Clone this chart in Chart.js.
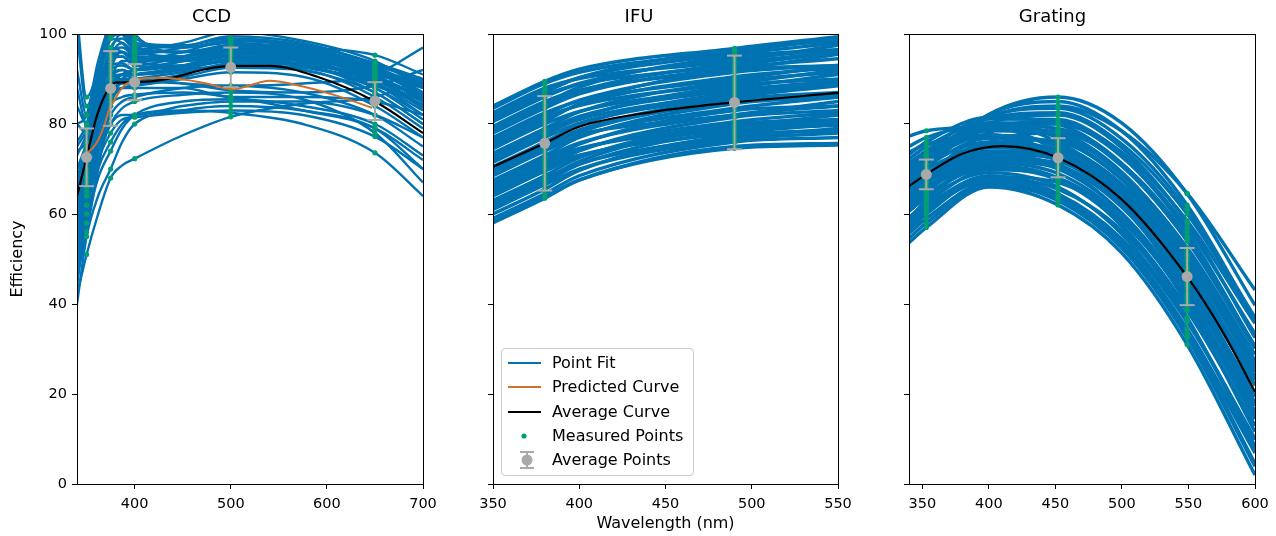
<!DOCTYPE html>
<html>
<head>
<meta charset="utf-8">
<script src="https://cdn.jsdelivr.net/npm/chart.js@4.4.0/dist/chart.umd.min.js"></script>
<style>
  html, body { margin: 0; padding: 0; background: #fff; }
  #wrap { position: relative; width: 1276px; height: 536px; overflow: hidden; font-family: 'DejaVu Sans', sans-serif; }
  canvas { position: absolute; top: 0; }
  #legend { position: absolute; left: 501px; top: 348px; width: 191px; height: 126px;
            border: 1px solid #cccccc; border-radius: 4px; background: rgba(255,255,255,0.8);
            font-size: 16px; color: #000; }
  .row { position: absolute; left: 0; height: 18px; line-height: 18px; width: 190px; }
  .row span.txt { position: absolute; left: 50px; top: 0; white-space: nowrap; }
  .row .ln { position: absolute; left: 6px; top: 8px; width: 33px; height: 2px; }
</style>
</head>
<body>
<div id="wrap">
  <canvas id="ccd" width="450" height="536" style="left:0px;width:450px;height:536px"></canvas>
  <canvas id="ifu" width="430" height="536" style="left:440px;width:430px;height:536px"></canvas>
  <canvas id="grating" width="426" height="536" style="left:850px;width:426px;height:536px"></canvas>
  <div id="legend">
    <div class="row" style="top:5px"><div class="ln" style="background:#0173b2"></div><span class="txt">Point Fit</span></div>
    <div class="row" style="top:29px"><div class="ln" style="background:#d0702c"></div><span class="txt">Predicted Curve</span></div>
    <div class="row" style="top:54px"><div class="ln" style="background:#000"></div><span class="txt">Average Curve</span></div>
    <div class="row" style="top:78px"><svg width="45" height="18" style="position:absolute;left:0;top:0"><circle cx="22" cy="9" r="2.6" fill="#029e73"/></svg><span class="txt">Measured Points</span></div>
    <div class="row" style="top:102px"><svg width="45" height="22" style="position:absolute;left:0;top:-2px"><g stroke="#a9a9a9" stroke-width="2"><line x1="25" y1="3" x2="25" y2="19"/><line x1="18" y1="3" x2="32" y2="3"/><line x1="18" y1="19" x2="32" y2="19"/></g><circle cx="25" cy="11" r="5.5" fill="#a9a9a9"/></svg><span class="txt">Average Points</span></div>
  </div>
</div>
<script>
// ---- shared axis ticks ----
const yTicks = [0, 20, 40, 60, 80, 100];
const ccdXTicks = [400, 500, 600, 700];
const ifuXTicks = [350, 400, 450, 500, 550];
const gratingXTicks = [350, 400, 450, 500, 550, 600];

// ---- CCD ----
const ccdX = [340, 350, 362, 375, 387, 400, 450, 500, 575, 650, 700];
const ccdMeasIdx = [1, 3, 5, 7, 9];   // 350, 375, 400, 500, 650 nm
const ccdFits = [
  [42, 51, 60, 68, 70.8, 72.3, 77.5, 81.6, 84.5, 86, 90],
  [40, 55, 64, 70, 76, 80, 83, 84, 83, 79, 70],
  [48, 58, 68, 74, 79, 82, 85, 85.5, 84, 80, 73],
  [44, 60, 72, 80, 83.5, 85, 86.5, 87, 85.5, 78, 67],
  [50, 62, 74, 82, 85, 86, 88, 88.5, 87, 82, 75],
  [55, 64, 76, 85, 88, 88.5, 90, 91.5, 90.5, 84, 77],
  [58, 66, 78, 86, 89, 89, 90.5, 92.5, 92, 86, 79],
  [60, 68, 80, 88, 90, 89.5, 91, 93.5, 93, 87, 80],
  [62, 70, 82, 90, 92, 91, 92, 94.5, 94, 88, 81],
  [65, 72, 84, 91, 92, 91, 93, 95.5, 95, 89, 82],
  [67, 74, 86, 93, 93.5, 92, 94, 96.5, 95.5, 90, 83.5],
  [70, 76, 88, 95, 95, 93, 95, 97.5, 96, 91, 85],
  [73, 78, 90, 97, 96, 94, 96, 98.5, 97, 92, 86],
  [76, 80, 92, 99, 98, 95.5, 97, 99.5, 98, 93, 87],
  [80, 82, 94, 101, 100, 96.5, 98, 100.5, 98.5, 94, 88],
  [104, 86, 92, 103, 104, 99, 97, 98, 97, 95.3, 91],
  [100, 84, 90, 100, 101, 97, 96, 97, 96.5, 93.5, 90],
  [88, 80, 87, 96, 97, 95, 94, 96, 95, 92, 88],
  [80, 78, 85, 95, 96, 94, 93, 95, 94, 91.5, 87],
  [74, 76, 84, 94, 95, 93, 92.5, 94, 93, 90.5, 86],
  [62, 70, 90, 104, 106, 100, 96, 96, 94, 90, 86],
  [58, 68, 88, 102, 103, 98, 94, 95, 93, 89, 84],
  [56, 66, 74, 80, 82, 82, 84, 85, 85, 82, 77],
  [52, 64, 72, 78, 81, 81.5, 82.5, 83, 82, 77.2, 70],
  [46, 58, 70, 76, 80, 82, 83, 82.5, 80, 73.6, 64],
  [54, 62, 74, 84, 86, 86.5, 87, 86, 83, 79.1, 72],
  [66, 73, 84, 90, 91, 90, 89, 88.5, 89, 91, 97],
  [70, 74, 82, 88, 90, 90, 89, 87.5, 87, 88.5, 92],
  [60, 69, 80, 87, 89.5, 90, 91.5, 93, 92.5, 88.5, 84.5],
  [64, 71, 83, 89, 91, 91, 92.5, 94, 93.5, 89.5, 85],
  [63, 70, 80, 86, 88, 88, 88, 86, 86, 85, 82],
  [68, 75, 86, 92, 93, 92, 93, 95, 94.5, 91, 88],
  [50, 60, 78, 92, 96, 95, 95, 96.5, 95.5, 90.5, 84],
  [56, 65, 82, 96, 100, 97, 96, 97.5, 96.5, 91.5, 86.5],
  [70, 75, 89, 99, 102, 98, 97.5, 99, 97.5, 92.5, 88.5],
  [84, 80, 90, 99, 100, 97, 96, 96.5, 95.5, 92, 89],
  [92, 82, 88, 97, 99, 96.5, 95, 97, 96, 93, 89.5],
  [46, 56, 70, 84, 90, 92, 93, 94, 93, 88, 82],
  [60, 67, 79, 88, 91, 92, 94, 96, 95, 90, 84],
  [66, 72, 85, 94, 96, 94.5, 95, 97, 96.5, 92, 87],
  [75, 79, 91, 100, 101, 97.5, 97, 98.5, 97.5, 93.5, 89],
  [52, 62, 75, 86, 90, 91, 92, 93, 92, 87, 80],
  [58, 67, 80, 90, 94, 94, 94.5, 95.5, 94.5, 89, 83],
  [64, 70, 84, 95, 98, 96, 96, 97, 95.5, 90.5, 85.5]
];
const ccdAvgCurveX = [340, 350, 360, 370, 380, 400, 436, 470, 500, 540, 590, 650, 700];
const ccdAvgCurveY = [64, 72.6, 81.3, 86.8, 89.2, 89.3, 90.1, 92, 92.9, 92.9, 90.5, 85, 78];
const ccdPredX = [345, 350, 356, 362, 369, 373, 378, 388, 400, 420, 447, 475, 502, 520, 540, 574, 610, 647];
const ccdPredY = [72.5, 73.5, 74.6, 76.4, 80.1, 83, 85, 88.3, 89.7, 90.3, 90, 89, 87.7, 88.6, 89.6, 88.4, 86.3, 83.6];
const ccdAvgX = [350, 375, 400, 500, 650];
const ccdAvgY = [72.6, 87.9, 89.3, 92.6, 85.1];
const ccdAvgErr = [6.4, 8.3, 4.0, 4.4, 4.2];

// ---- IFU ----
const ifuX = [350, 380, 400, 490, 550];
const ifuMeasIdx = [1, 3];   // 380, 490 nm
const ifuFits = [
  [58.0, 63.5, 67.5, 75.0, 75.7], [59.0, 64.5, 68.5, 76.0, 77.0], [60.0, 65.5, 69.7, 77.5, 78.5],
  [61.0, 66.5, 70.0, 76.5, 78.0], [61.5, 67.0, 71.0, 78.5, 79.7], [62.5, 68.0, 71.2, 77.0, 79.0],
  [63.0, 68.5, 72.5, 80.0, 81.0], [64.0, 69.5, 72.8, 79.0, 80.5], [64.5, 70.0, 74.0, 81.5, 83.0],
  [65.5, 71.0, 74.3, 80.5, 82.5], [66.0, 71.5, 75.5, 83.0, 84.0], [67.0, 72.5, 75.8, 82.0, 84.0],
  [67.5, 73.0, 77.0, 84.5, 86.0], [68.5, 74.0, 77.3, 83.5, 86.0], [69.5, 75.0, 78.7, 85.5, 87.0],
  [70.5, 76.0, 79.8, 87.0, 89.0], [71.5, 77.0, 80.2, 86.0, 88.5], [72.0, 77.5, 81.3, 88.5, 90.0],
  [73.0, 78.5, 81.7, 87.5, 89.5], [73.5, 79.0, 82.7, 89.5, 91.5], [74.5, 80.0, 82.8, 88.0, 91.0],
  [75.5, 81.0, 84.3, 90.5, 92.5], [76.5, 82.0, 85.3, 91.5, 93.0], [77.0, 82.5, 85.1, 90.0, 93.0],
  [78.0, 83.5, 86.7, 92.5, 94.5], [78.5, 84.0, 87.3, 93.5, 96.0], [79.5, 85.0, 87.5, 92.0, 95.5],
  [80.5, 86.0, 89.0, 94.5, 96.5], [81.0, 86.5, 88.8, 93.0, 96.0], [82.0, 87.5, 90.3, 95.5, 98.0],
  [82.5, 88.0, 90.1, 94.0, 97.5], [83.5, 89.0, 91.5, 96.0, 99.0], [84.0, 89.5, 92.2, 96.8, 99.4],
  [65.0, 70.5, 73.1, 78.0, 80.0], [70.0, 75.5, 77.8, 82.0, 85.0], [75.0, 80.5, 84.5, 92.0, 93.0],
  [58.3, 63.8, 67.6, 74.6, 75.3], [62.0, 67.5, 71.7, 79.5, 80.5], [69.0, 74.5, 78.2, 85.0, 86.5],
  [72.5, 78.0, 81.0, 86.5, 89.0], [79.0, 84.5, 88.2, 95.0, 96.5], [66.5, 72.0, 74.6, 79.5, 82.0],
  [76.0, 81.5, 84.1, 89.0, 92.0], [81.5, 87.0, 90.3, 96.5, 98.5]
];
const ifuAvgCurveX = [350, 380, 400, 443, 490, 550];
const ifuAvgCurveY = [70.5, 75.7, 79.4, 82.7, 84.8, 86.9];
const ifuAvgX = [380, 490];
const ifuAvgY = [75.7, 84.8];
const ifuAvgErr = [10.5, 10.4];

// ---- Grating ----
const gratX = [340, 353, 400, 452, 500, 549, 600];
const gratMeasIdx = [1, 3, 5];   // 353, 452, 549 nm
const gratFits = [
  [53.6, 57.0, 66.0, 62.0, 51.3, 31.0, 2.0], [58.3, 61.0, 67.5, 63.0, 52.5, 33.5, 6.9],
  [57.4, 60.5, 68.2, 65.5, 56.3, 38.5, 13.0], [59.3, 62.0, 68.5, 64.5, 54.4, 36.0, 10.1],
  [60.7, 63.5, 69.2, 66.0, 55.5, 36.5, 9.8], [59.2, 62.5, 69.8, 68.0, 58.7, 40.5, 14.4],
  [61.7, 64.5, 70.2, 67.5, 57.5, 39.0, 12.9], [62.6, 65.5, 71.2, 69.0, 59.4, 41.5, 16.1],
  [60.6, 64.0, 71.5, 70.5, 61.5, 43.5, 17.4], [63.6, 66.5, 72.2, 70.0, 60.2, 42.0, 16.2],
  [64.7, 67.5, 72.8, 71.0, 61.8, 44.5, 20.0], [62.6, 66.0, 73.2, 72.5, 63.5, 45.5, 19.4],
  [65.6, 68.5, 74.0, 72.0, 62.2, 44.0, 18.2], [66.0, 69.0, 74.9, 73.5, 64.4, 47.0, 22.1],
  [67.4, 70.0, 74.7, 72.5, 63.1, 46.0, 21.9], [64.6, 68.0, 75.0, 74.5, 65.8, 48.5, 23.3],
  [68.3, 71.0, 76.0, 74.0, 64.7, 47.5, 23.2], [69.2, 72.0, 77.3, 75.5, 66.5, 49.5, 25.4],
  [67.4, 70.5, 76.8, 76.0, 67.6, 51.0, 27.1], [70.5, 73.0, 77.5, 75.0, 65.4, 48.0, 23.6],
  [69.5, 72.5, 78.5, 77.5, 69.0, 52.5, 28.8], [71.3, 74.0, 79.0, 77.0, 67.7, 50.5, 26.2],
  [70.4, 73.5, 79.8, 79.0, 70.6, 54.0, 30.1], [72.2, 75.0, 80.3, 78.5, 69.3, 52.0, 27.5],
  [75.0, 77.0, 79.8, 76.0, 65.7, 48.0, 23.9], [77.3, 78.5, 79.3, 74.0, 63.2, 46.0, 23.2],
  [66.3, 71.0, 82.1, 85.0, 78.4, 62.0, 36.6], [65.6, 70.0, 80.1, 82.0, 74.7, 58.0, 32.5],
  [63.6, 68.0, 78.1, 80.0, 72.7, 56.0, 30.5], [67.8, 72.0, 81.6, 83.5, 76.7, 61.0, 37.0],
  [65.0, 70.0, 82.1, 86.0, 80.2, 64.5, 39.7], [61.7, 66.0, 75.9, 78.0, 71.1, 55.0, 30.4],
  [70.7, 74.0, 81.1, 81.0, 73.1, 57.0, 33.4], [73.2, 76.0, 81.5, 80.0, 71.2, 54.5, 30.7],
  [63.1, 67.0, 75.6, 76.5, 68.7, 52.0, 27.0], [58.8, 63.0, 72.5, 74.0, 66.6, 50.0, 24.9],
  [73.8, 75.5, 77.6, 73.0, 62.1, 44.0, 19.6], [56.5, 60.0, 68.3, 67.0, 58.4, 41.0, 15.6],
  [68.0, 72.0, 81.5, 84.0, 78.4, 64.6, 43.1], [54.6, 58.0, 66.5, 63.0, 52.5, 32.5, 3.9],
  [60.8, 64.0, 70.6, 68.0, 57.2, 37.0, 8.4], [62.7, 66.0, 72.4, 70.5, 59.9, 40.0, 11.6],
  [58.7, 61.5, 68.0, 64.0, 53.5, 34.5, 7.8], [63.7, 67.0, 73.6, 72.0, 61.9, 42.5, 14.8],
  [55.7, 59.0, 67.0, 63.5, 52.9, 33.0, 4.6], [65.7, 69.0, 75.5, 74.0, 64.0, 45.0, 17.8],
  [69.9, 73.0, 79.3, 78.0, 68.8, 51.0, 25.5], [67.3, 71.0, 79.3, 80.5, 73.7, 58.5, 35.7],
  [68.7, 72.5, 81.2, 82.5, 75.5, 60.0, 36.6], [61.5, 65.0, 72.2, 71.5, 62.3, 44.0, 17.5]
];
const gratAvgCurveX = [340, 353, 380, 410, 452, 500, 549, 575, 600];
const gratAvgCurveY = [66.2, 68.8, 73.4, 75.1, 72.5, 63.2, 46.1, 34.2, 20.5];
const gratAvgX = [353, 452, 549];
const gratAvgY = [68.8, 72.5, 46.1];
const gratAvgErr = [3.3, 4.35, 6.35];

// ---- styling ----
const BLUE = '#0173b2', ORANGE = '#d0702c', GREEN = '#029e73', GRAY = '#a9a9a9';
Chart.defaults.font.family = "'DejaVu Sans', sans-serif";
Chart.defaults.font.size = 14.5;
Chart.defaults.color = '#000';

function curve(xs, ys, color, width, order) {
  return {
    data: xs.map((x, i) => ({ x: x, y: ys[i] })),
    borderColor: color, borderWidth: width, pointRadius: 0,
    cubicInterpolationMode: 'monotone', fill: false, order: order
  };
}

function fitCurves(xs, fits, width) {
  return fits.map(f => curve(xs, f, BLUE, width, 5));
}

// measured points sit at the measured wavelengths of each fit
function measured(xs, fits, idx) {
  const pts = [];
  fits.forEach(f => idx.forEach(i => pts.push({ x: xs[i], y: f[i] })));
  return { data: pts, showLine: false, pointRadius: 2.6, pointBackgroundColor: GREEN,
           pointBorderWidth: 0, order: 4 };
}

function averagePoints(xs, ys, errs) {
  const out = xs.map((x, i) => ({
    data: [{ x: x, y: ys[i] - errs[i] }, { x: x, y: ys[i] + errs[i] }],
    borderColor: GRAY, borderWidth: 2, pointStyle: 'line', pointRadius: 7.5,
    pointBorderColor: GRAY, pointBorderWidth: 2, tension: 0, order: 1
  }));
  out.push({
    data: xs.map((x, i) => ({ x: x, y: ys[i] })), showLine: false,
    pointRadius: 5.5, pointBackgroundColor: GRAY, pointBorderWidth: 0, order: 0
  });
  return out;
}

const frame = {
  id: 'frame',
  afterDraw(chart) {
    const a = chart.chartArea, ctx = chart.ctx;
    ctx.save();
    ctx.strokeStyle = '#000';
    ctx.lineWidth = 1;
    ctx.strokeRect(Math.round(a.left) + 0.5, Math.round(a.top) + 0.5,
                   Math.round(a.right - a.left), Math.round(a.bottom - a.top));
    ctx.restore();
  }
};

function xScale(min, max, ticks, title) {
  return {
    type: 'linear', min: min, max: max,
    afterBuildTicks: ax => { ax.ticks = ticks.map(v => ({ value: v })); },
    afterFit: ax => { ax.height = 52; },
    grid: { drawOnChartArea: false, drawTicks: true, tickLength: 5, color: '#000' },
    border: { display: false },
    ticks: { color: '#000', padding: 7, maxRotation: 0, autoSkip: false },
    title: title ? { display: true, text: title, color: '#000', font: { size: 16 },
                     padding: { top: 0, bottom: 2.4 } }
                 : { display: false }
  };
}

function yScale(width, labels, title) {
  return {
    type: 'linear', min: 0, max: 100,
    afterBuildTicks: ax => { ax.ticks = yTicks.map(v => ({ value: v })); },
    afterFit: ax => { ax.width = width; },
    grid: { drawOnChartArea: false, drawTicks: true, tickLength: 5, color: '#000' },
    border: { display: false },
    ticks: { color: '#000', padding: 5, callback: v => labels ? String(v) : '' },
    title: title ? { display: true, text: title, color: '#000', font: { size: 16 },
                     padding: { top: 8.4, bottom: 0 } }
                 : { display: false }
  };
}

function makeChart(id, title, datasets, x, y, padRight) {
  return new Chart(document.getElementById(id), {
    type: 'line',
    data: { datasets: datasets },
    options: {
      responsive: false, animation: false, events: [],
      layout: { padding: { left: 0, right: padRight, top: 0, bottom: 0 } },
      plugins: {
        legend: { display: false }, tooltip: { enabled: false },
        title: { display: true, text: title, color: '#000',
                 font: { size: 18, weight: 'normal' }, padding: { top: 6.7, bottom: 5.7 } }
      },
      scales: { x: x, y: y }
    },
    plugins: [frame]
  });
}

// CCD panel
makeChart('ccd', 'CCD', [].concat(
  fitCurves(ccdX, ccdFits, 2.4),
  [measured(ccdX, ccdFits, ccdMeasIdx),
   curve(ccdAvgCurveX, ccdAvgCurveY, '#000', 2.2, 3),
   curve(ccdPredX, ccdPredY, ORANGE, 2, 2)],
  averagePoints(ccdAvgX, ccdAvgY, ccdAvgErr)
), xScale(340, 700, ccdXTicks), yScale(77, true, 'Efficiency'), 27);

// IFU panel
makeChart('ifu', 'IFU', [].concat(
  fitCurves(ifuX, ifuFits, 3.4),
  [measured(ifuX, ifuFits, ifuMeasIdx),
   curve(ifuAvgCurveX, ifuAvgCurveY, '#000', 2.2, 3)],
  averagePoints(ifuAvgX, ifuAvgY, ifuAvgErr)
), xScale(350, 550, ifuXTicks, 'Wavelength (nm)'), yScale(53, false), 32);

// Grating panel
makeChart('grating', 'Grating', [].concat(
  fitCurves(gratX, gratFits, 3.4),
  [measured(gratX, gratFits, gratMeasIdx),
   curve(gratAvgCurveX, gratAvgCurveY, '#000', 2.2, 3)],
  averagePoints(gratAvgX, gratAvgY, gratAvgErr)
), xScale(340, 600, gratingXTicks), yScale(59, false), 21);
</script>
</body>
</html>
